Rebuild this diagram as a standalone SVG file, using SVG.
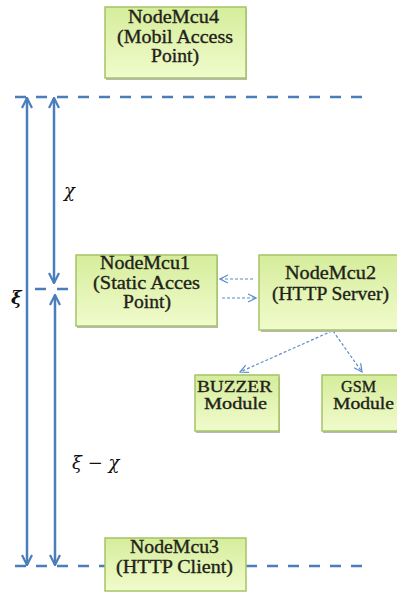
<svg xmlns="http://www.w3.org/2000/svg" width="397" height="592" viewBox="0 0 397 592">
<defs>
<linearGradient id="g" x1="0" y1="0" x2="0" y2="1">
<stop offset="0" stop-color="#d5ed9b"/>
<stop offset="1" stop-color="#f1fbcc"/>
</linearGradient>
<marker id="ah" viewBox="0 0 12 12" refX="11" refY="6" markerWidth="12" markerHeight="12" markerUnits="userSpaceOnUse" orient="auto-start-reverse">
<path d="M1,1 L11,6 L1,11" fill="none" stroke="#4a7ebb" stroke-width="2.2"/>
</marker>
<marker id="sh" viewBox="0 0 10 10" refX="9" refY="5" markerWidth="10" markerHeight="10" markerUnits="userSpaceOnUse" orient="auto">
<path d="M1,1 L9,5 L1,9" fill="none" stroke="#5b8cc8" stroke-width="1.2"/>
</marker>
</defs>
<style>
.box{fill:url(#g);stroke:#a5c467;stroke-width:1.5}
.shd{fill:#b8b8b8}
.t{font-size:18px;fill:#231f1a;stroke:#231f1a;stroke-width:0.35;text-anchor:middle}
.s{font-size:16px}
.m{font-style:italic;font-size:18px;fill:#111}
.dim{stroke:#4a7ebb;stroke-width:2.5;fill:none}
.dash{stroke:#4a7ebb;stroke-width:2.5;fill:none;stroke-dasharray:11 10}
.conn{stroke:#5b8cc8;stroke-width:1.2;fill:none;stroke-dasharray:3 2}
</style>
<g id="guides">
<line class="dash" x1="15" y1="97" x2="370" y2="97"/>
<line class="dash" x1="15" y1="566" x2="370" y2="566"/>
<line class="dim" x1="35" y1="289" x2="46" y2="289"/>
<line class="dim" x1="57" y1="289" x2="68" y2="289"/>
</g>
<g id="connectors">
<line class="dim" x1="27" y1="98" x2="27" y2="565" marker-start="url(#ah)" marker-end="url(#ah)"/>
<line class="dim" x1="54" y1="98" x2="54" y2="283" marker-start="url(#ah)" marker-end="url(#ah)"/>
<line class="dim" x1="55" y1="295" x2="55" y2="565" marker-start="url(#ah)" marker-end="url(#ah)"/>
<line class="conn" x1="253" y1="279" x2="220" y2="279" marker-end="url(#sh)"/>
<line class="conn" x1="222" y1="298" x2="256" y2="298" marker-end="url(#sh)"/>
<line class="conn" x1="332" y1="331" x2="240" y2="372" marker-end="url(#sh)"/>
<line class="conn" x1="333" y1="331" x2="362" y2="372" marker-end="url(#sh)"/>
</g>
<g id="labels" font-family="'DejaVu Serif', 'Liberation Serif', serif">
<text class="m" x="64" y="197">χ</text>
<text class="m" x="11" y="304" font-weight="bold">ξ</text>
<text class="m" x="72" y="469">ξ − χ</text>
</g>
<g font-family="'Liberation Serif', 'DejaVu Serif', serif">
<g id="node4">
<rect class="shd" x="106" y="9" width="141" height="71"/>
<rect class="box" x="105" y="7" width="141" height="71"/>
<text class="t" x="173.5" y="23" textLength="91" lengthAdjust="spacingAndGlyphs">NodeMcu4</text>
<text class="t" x="175" y="43" textLength="116" lengthAdjust="spacingAndGlyphs">(Mobil Access</text>
<text class="t" x="175" y="62" textLength="48" lengthAdjust="spacingAndGlyphs">Point)</text>
</g>
<g id="node1">
<rect class="shd" x="77" y="257" width="141" height="71"/>
<rect class="box" x="76" y="255" width="141" height="71"/>
<text class="t" x="145" y="269" textLength="90" lengthAdjust="spacingAndGlyphs">NodeMcu1</text>
<text class="t" x="146.5" y="289" textLength="107" lengthAdjust="spacingAndGlyphs">(Static Acces</text>
<text class="t" x="147" y="308" textLength="48" lengthAdjust="spacingAndGlyphs">Point)</text>
</g>
<g id="node2">
<rect class="shd" x="261" y="257" width="140" height="75"/>
<rect class="box" x="259" y="255" width="142" height="75"/>
<text class="t" x="330.5" y="279" textLength="91" lengthAdjust="spacingAndGlyphs">NodeMcu2</text>
<text class="t" x="330.5" y="300" textLength="117" lengthAdjust="spacingAndGlyphs">(HTTP Server)</text>
</g>
<g id="buzzer">
<rect class="shd" x="196" y="377" width="84" height="56"/>
<rect class="box" x="195" y="375" width="84" height="56"/>
<text class="t s" x="234.5" y="392" textLength="75" lengthAdjust="spacingAndGlyphs">BUZZER</text>
<text class="t s" x="235.5" y="409" textLength="63" lengthAdjust="spacingAndGlyphs">Module</text>
</g>
<g id="gsm">
<rect class="shd" x="323" y="377" width="80" height="56"/>
<rect class="box" x="322" y="375" width="80" height="56"/>
<text class="t s" x="358.5" y="392" textLength="35" lengthAdjust="spacingAndGlyphs">GSM</text>
<text class="t s" x="363.5" y="409" textLength="61" lengthAdjust="spacingAndGlyphs">Module</text>
</g>
<g id="node3">
<rect class="box" x="105" y="538" width="141" height="53"/>
<text class="t" x="174.5" y="553" textLength="89" lengthAdjust="spacingAndGlyphs">NodeMcu3</text>
<text class="t" x="174.5" y="573" textLength="117" lengthAdjust="spacingAndGlyphs">(HTTP Client)</text>
</g>
</g>
</svg>
